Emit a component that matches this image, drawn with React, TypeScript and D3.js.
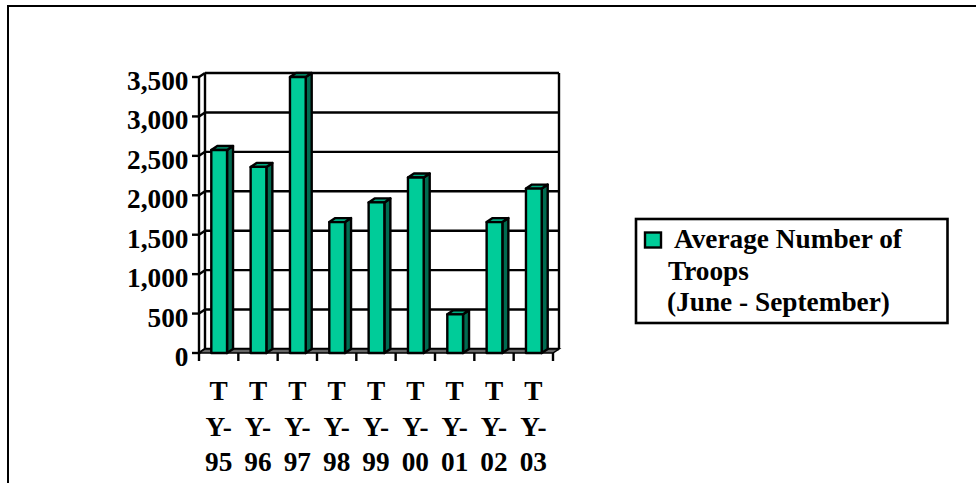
import React from "react";
import * as d3 from "d3";

const categories = ["95", "96", "97", "98", "99", "00", "01", "02", "03"];
const values = [2575, 2360, 3500, 1660, 1910, 2225, 490, 1660, 2085];
const yTicks = [0, 500, 1000, 1500, 2000, 2500, 3000, 3500];
const legendLines = ["Average Number of", "Troops", "(June - September)"];

const W = 976, H = 483;
const DX = 6, DY = -4;
const SW = 2.4;
const FS = 27.3;
const FONT = "'Liberation Serif', 'Times New Roman', serif";
const GREEN = "#00CC99", DARK = "#006B50", TOPC = "#00A87E";

export default function App() {
  const x = d3.scaleBand<string>().domain(categories).range([199.5, 553.5]).paddingInner(0.6).paddingOuter(0.3);
  const band = d3.scaleBand<string>().domain(categories).range([199, 553]);
  const y = d3.scaleLinear().domain([0, 3500]).range([353, 77]);
  const w = x.bandwidth();
  return (
    <svg width={W} height={H} viewBox={`0 0 ${W} ${H}`} style={{ position: "absolute", left: 0, top: 0, background: "#fff" }}>
      <path d={`M8,${H} V6 H${W}`} fill="none" stroke="#000" strokeWidth={2} />
      {yTicks.map((t) => (
        <g key={t}>
          <line x1={199 + DX} x2={559} y1={y(t) + DY} y2={y(t) + DY} stroke="#000" strokeWidth={SW} />
          <line x1={199} x2={199 + DX} y1={y(t)} y2={y(t) + DY} stroke="#000" strokeWidth={SW} />
          <line x1={192} x2={199} y1={y(t)} y2={y(t)} stroke="#000" strokeWidth={SW} />
          <text x={188.5} y={y(t) + 13} textAnchor="end" fontFamily={FONT} fontWeight="bold" fontSize={FS}>{d3.format(",")(t)}</text>
        </g>
      ))}
      <line x1={199} x2={199} y1={y(3500)} y2={y(0)} stroke="#000" strokeWidth={SW} />
      <line x1={205} x2={205} y1={y(3500) + DY} y2={y(0) + DY} stroke="#000" strokeWidth={SW} />
      <line x1={559} x2={559} y1={y(3500) + DY} y2={y(0) + DY} stroke="#000" strokeWidth={SW} />
      <polygon points={`199,${y(0)} ${553},${y(0)} ${559},${y(0) + DY} ${205},${y(0) + DY}`} fill="#666" stroke="#000" strokeWidth={1.5} />
      {[...categories.map((c) => band(c)!), 553].map((p, i) => (
        <line key={i} x1={p} x2={p} y1={353} y2={361} stroke="#000" strokeWidth={SW} />
      ))}
      {categories.map((c, i) => {
        const x0 = x(c)!, top = y(values[i]), bot = y(0);
        return (
          <g key={c} stroke="#000" strokeWidth={SW} strokeLinejoin="round">
            <polygon points={`${x0 + w},${top} ${x0 + w + DX},${top + DY} ${x0 + w + DX},${bot + DY} ${x0 + w},${bot}`} fill={DARK} />
            <polygon points={`${x0},${top} ${x0 + DX},${top + DY} ${x0 + w + DX},${top + DY} ${x0 + w},${top}`} fill={TOPC} />
            <rect x={x0} y={top} width={w} height={bot - top} fill={GREEN} />
          </g>
        );
      })}
      {categories.map((c) => {
        const cx = band(c)! + band.bandwidth() / 2;
        return (
          <text key={c} textAnchor="middle" fontFamily={FONT} fontWeight="bold" fontSize={FS}>
            <tspan x={cx} y={400}>T</tspan>
            <tspan x={cx} y={436}>Y-</tspan>
            <tspan x={cx} y={471}>{c}</tspan>
          </text>
        );
      })}
      <rect x={636} y={219} width={311.5} height={104} fill="#fff" stroke="#000" strokeWidth={2.6} />
      <rect x={645} y={232.5} width={16} height={15} fill={GREEN} stroke="#000" strokeWidth={2.4} />
      <text fontFamily={FONT} fontWeight="bold" fontSize={FS}>
        <tspan x={674} y={248}>{legendLines[0]}</tspan>
        <tspan x={668} y={280}>{legendLines[1]}</tspan>
        <tspan x={667} y={311}>{legendLines[2]}</tspan>
      </text>
    </svg>
  );
}
